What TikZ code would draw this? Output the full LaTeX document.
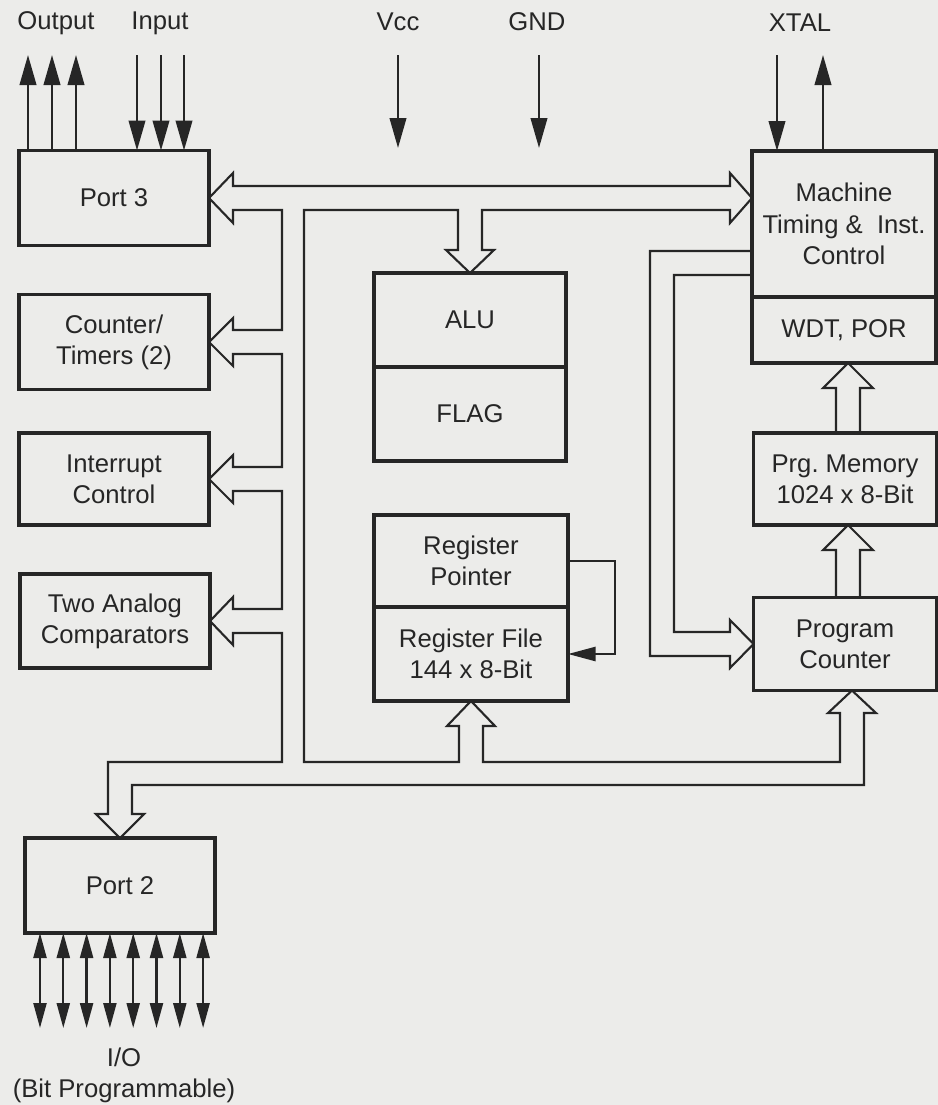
\documentclass[tikz,border=0pt]{standalone}
\usepackage{fontspec}
\setmainfont{Liberation Sans}
\usepackage{tikz}
\usetikzlibrary{arrows.meta, positioning}

\definecolor{paper}{RGB}{236,236,234}
\definecolor{ink}{RGB}{38,38,38}

\begin{document}
\begin{tikzpicture}[
  x=0.2mm,
  y=-0.2mm,
  block/.style={
    draw=ink,
    text=ink,
    line width=1.9pt,
    outer sep=0pt,
    minimum width=3.8cm,
    minimum height=1.9cm,
    align=center,
    inner sep=2pt,
    font=\fontsize{14.6}{17.8}\selectfont
  },
  lbl/.style={
    text=ink,
    inner sep=0pt,
    align=center,
    font=\fontsize{14.6}{17.8}\selectfont
  },
  pin/.style={
    -{Triangle[length=6mm,width=3.3mm]},
    line width=1.4pt,
    draw=ink
  },
  iopin/.style={
    {Triangle[length=5mm,width=2.6mm]}-{Triangle[length=5mm,width=2.6mm]},
    line width=1.3pt,
    draw=ink
  },
  bus/.style={
    line width=1.2pt,
    draw=ink
  }
]

\fill[paper] (0,0) rectangle (938,1105);
\useasboundingbox (0,0) rectangle (938,1105);

% ------------------------------------------------
% Left column: ports and peripherals
% ------------------------------------------------
\node[block] (port3) at (114,198) {Port 3};
\node[block] (timer) at (114,342) {Counter/\\Timers (2)};
\node[block, minimum height=1.84cm] (intr) at (114,479) {Interrupt\\Control};
\node[block, minimum height=1.88cm] (comp) at (115,621) {Two Analog\\Comparators};
\node[block] (port2) at (120,885.5) {Port 2};

% ------------------------------------------------
% Middle column
% ------------------------------------------------
\node[block, minimum width=3.84cm, minimum height=1.88cm] (alu) at (470,320) {ALU};
\node[block, minimum width=3.84cm, minimum height=1.88cm, below=0pt of alu] (flag) {FLAG};

\node[block, minimum width=3.88cm, minimum height=1.84cm] (regptr) at (471,561) {Register\\Pointer};
\node[block, minimum width=3.88cm, minimum height=1.88cm, below=0pt of regptr] (regfile) {Register File\\144 x 8-Bit};

% ------------------------------------------------
% Right column
% ------------------------------------------------
\node[block, minimum width=3.68cm, minimum height=2.92cm] (mach) at (844,224)
{Machine\\Timing \&\ \ Inst.\\Control};
\node[block, minimum width=3.68cm, minimum height=1.32cm, below=0pt of mach] (wdt) {WDT, POR};
\node[block, minimum width=3.66cm, minimum height=1.84cm] (prg) at (845,479)
{Prg.\ Memory\\1024 x 8-Bit};
\node[block, minimum width=3.66cm, minimum height=1.86cm] (pc) at (845,644)
{Program\\Counter};

% ------------------------------------------------
% Pin labels
% ------------------------------------------------
\node[lbl] (out) at (56,23) {Output};
\node[lbl] (in) at (160,23) {Input};
\node[lbl] (vcc) at (398,22) {Vcc};
\node[lbl] (gnd) at (537,22) {GND};
\node[lbl] (xtal) at (800,23) {XTAL};
\node[lbl] (io) at (124,1075) {I/O\\(Bit Programmable)};

% Pin arrows
\foreach \x in {28,52,76}
  \draw[pin] (port3.north -| \x,0) -- (\x,55);
\foreach \x in {137,161,184}
  \draw[pin] (\x,55) -- (port3.north -| \x,0);

\draw[pin] (vcc |- 0,55) -- (vcc |- 0,148);
\draw[pin] (539,55) -- (539,148);

\draw[pin] (777,55) -- (mach.north -| 777,0);
\draw[pin] (mach.north -| 823,0) -- (823,55);

\foreach \i in {0,...,7}
  \draw[iopin] (port2.south -| {40+23.3*\i},0) -- ({40+23.3*\i},1028);

% Register pointer feeds the register file
\draw[pin, -{Triangle[length=5.5mm,width=2.8mm]}]
  (regptr.east) -- ++(47,0) |- (regfile.east);

% ------------------------------------------------
% Internal bus (one outline)
% ------------------------------------------------
\draw[bus]
  (282,330) -- (282,210) -- (233,210) -- (233,223) -- (port3.east)
  -- (233,173) -- (233,186) -- (730,186) -- (730,173)
  -- (mach.west |- port3.east) -- (730,223) -- (730,210)
  -- (482,210) -- (482,250) -- (494,250) -- (alu.north)
  -- (446,250) -- (458,250) -- (458,210) -- (304,210)
  -- (304,762) -- (459,762) -- (459,726) -- (447,726) -- (regfile.south)
  -- (495,726) -- (483,726) -- (483,762) -- (840,762) -- (840,713)
  -- (828,713) -- (852,0 |- pc.south) -- (876,713) -- (864,713)
  -- (864,785) -- (132,785) -- (132,814) -- (144,814) -- (port2.north)
  -- (96,814) -- (108,814) -- (108,762) -- (282,762)
  -- (282,633) -- (233,633) -- (233,645) -- (comp.east)
  -- (233,597) -- (233,609) -- (282,609)
  -- (282,491) -- (233,491) -- (233,503) -- (intr.east)
  -- (233,455) -- (233,467) -- (282,467)
  -- (282,354) -- (233,354) -- (233,366) -- (timer.east)
  -- (233,318) -- (233,330) -- cycle;

% Timing control to program counter
\draw[bus]
  (mach.west |- 0,251) -- (650,251) -- (650,656) -- (730,656) -- (730,668)
  -- (pc.west) -- (730,620) -- (730,632) -- (674,632) -- (674,275)
  -- (mach.west |- 0,275);

% Program counter -> memory -> WDT
\draw[bus]
  (836,0 |- pc.north) -- (836,550) -- (823,550) -- (848,0 |- prg.south)
  -- (873,550) -- (860,550) -- (860,0 |- pc.north);
\draw[bus]
  (836,0 |- prg.north) -- (836,388) -- (823,388) -- (848,0 |- wdt.south)
  -- (873,388) -- (860,388) -- (860,0 |- prg.north);

\end{tikzpicture}
\end{document}
